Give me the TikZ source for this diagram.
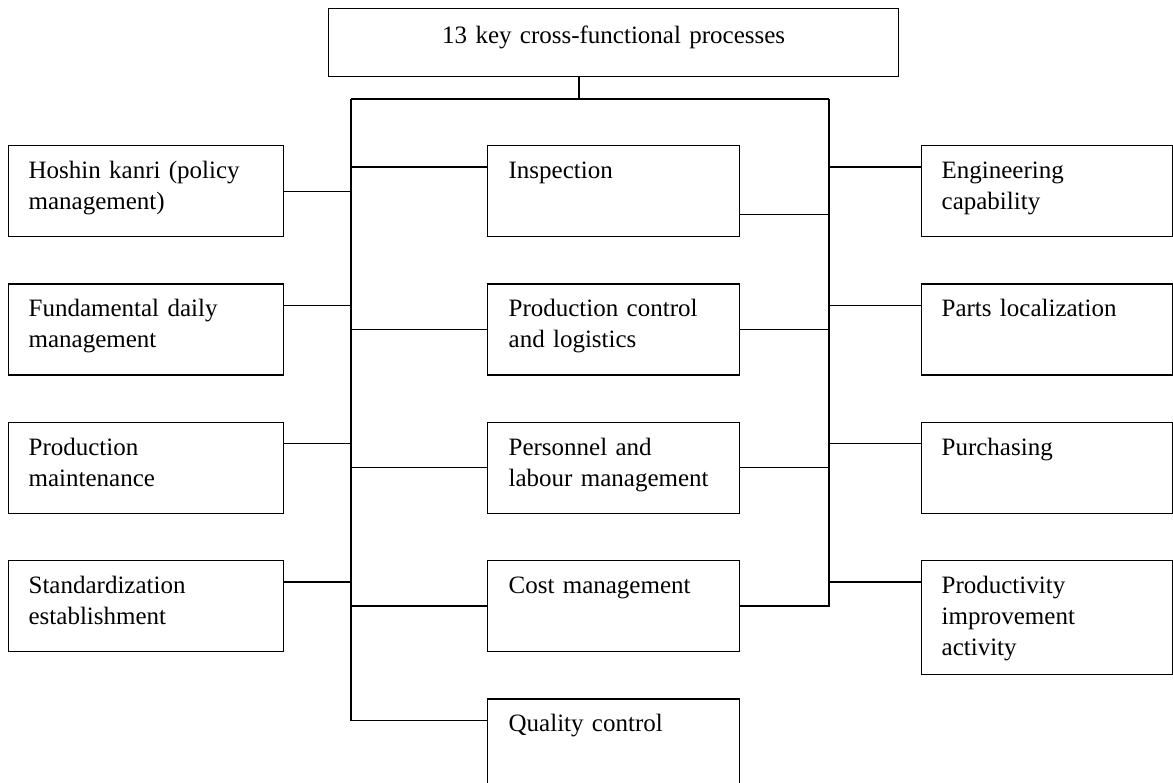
\documentclass[tikz,border=0pt]{standalone}
\usepackage{fontspec}
\setmainfont{Liberation Serif}
\usetikzlibrary{positioning}

\begin{document}
\begin{tikzpicture}[
    x=1pt, y=-1pt,
    node distance=46pt and 0pt,
    procbox/.style={
        rectangle,
        draw=black,
        line width=1.3pt,
        anchor=north west,
        align=left,
        inner ysep=0pt,
        text height=33pt,
        text depth=58pt,
        font=\fontsize{25}{31}\selectfont
    },
    sidebox/.style={
        procbox,
        inner xsep=20pt,
        text width=235pt
    },
    midbox/.style={
        procbox,
        inner xsep=21pt,
        text width=210pt
    },
    rightbox/.style={
        procbox,
        inner xsep=20pt,
        text width=211pt
    },
    headbox/.style={
        procbox,
        align=center,
        inner xsep=0pt,
        text width=570pt,
        text height=35pt,
        text depth=33pt
    },
    link/.style={
        draw=black,
        line width=1.3pt
    }
]
\path[use as bounding box, clip] (0,0) rectangle (1173,782);

% Nodes
\node[headbox] (head) at (328,8) {13 key cross-functional processes};

\node[sidebox] (hoshin) at (8,145) {Hoshin kanri (policy\\management)};
\node[sidebox, below=of hoshin] (fund) {Fundamental daily\\management};
\node[sidebox, below=of fund] (maint) {Production\\maintenance};
\node[sidebox, below=of maint] (stand) {Standardization\\establishment};

\node[midbox] (insp) at (487,145) {Inspection};
\node[midbox, below=of insp] (ctrl) {Production control\\and logistics};
\node[midbox, below=of ctrl] (pers) {Personnel and\\labour management};
\node[midbox, below=of pers] (cost) {Cost management};
\node[midbox, below=of cost, text depth=150pt] (qual) {Quality control};

\node[rightbox] (eng) at (921,145) {Engineering\\capability};
\node[rightbox, below=of eng] (parts) {Parts localization};
\node[rightbox, below=of parts] (purch) {Purchasing};
\node[rightbox, below=of purch, text depth=81pt] (prodv) {Productivity\\improvement\\activity};

% Trunk and buses
\coordinate (stem) at (579,99);
\coordinate (busW) at (351,99);
\coordinate (busE) at (829,99);
\path ([yshift=-22pt]qual.north west) coordinate (qual-c);

\draw[link] (stem |- head.south) -- (stem);
\draw[link] (busW) -- (busE);
\draw[link] (busW) |- (qual-c);
\draw[link] (busE) |- (cost.east);

% Left column
\draw[link] (hoshin.east) -- (hoshin.east -| busW);
\foreach \n in {fund,maint,stand}{
    \path ([yshift=-22pt]\n.north east) coordinate (\n-c);
    \draw[link] (\n-c) -- (\n-c -| busW);
}

% Middle column
\path ([yshift=-22pt]insp.north west) coordinate (insp-w);
\path ([yshift=23pt]insp.south east) coordinate (insp-e);
\draw[link] (insp-w) -- (insp-w -| busW);
\draw[link] (insp-e) -- (insp-e -| busE);
\foreach \n in {ctrl,pers}{
    \draw[link] (\n.west) -- (\n.west -| busW);
    \draw[link] (\n.east) -- (\n.east -| busE);
}
\draw[link] (cost.west) -- (cost.west -| busW);

% Right column
\foreach \n in {eng,parts,purch,prodv}{
    \path ([yshift=-22pt]\n.north west) coordinate (\n-c);
    \draw[link] (\n-c) -- (\n-c -| busE);
}

\end{tikzpicture}
\end{document}
